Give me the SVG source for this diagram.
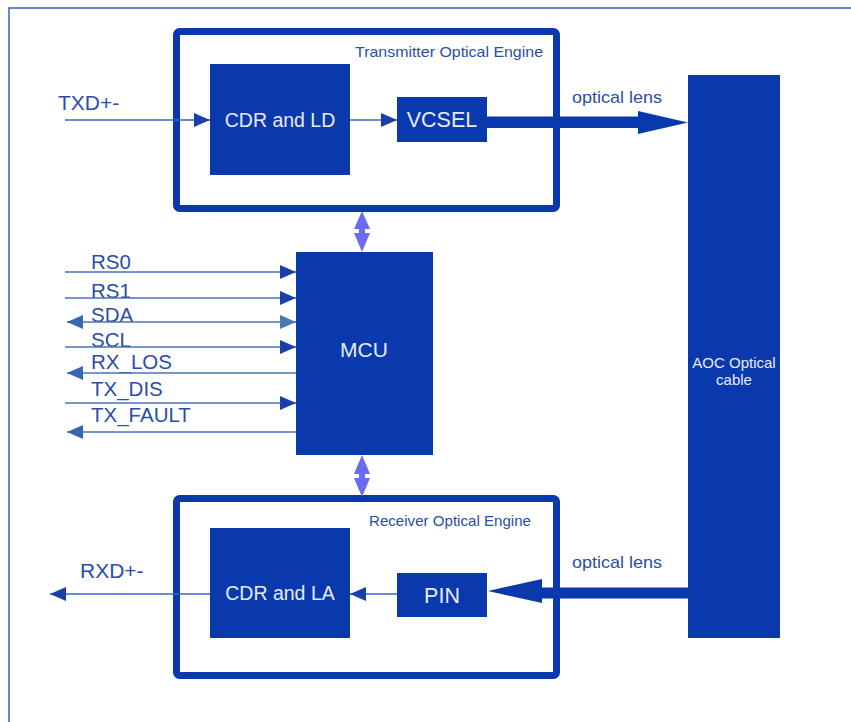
<svg xmlns="http://www.w3.org/2000/svg" width="851" height="722" viewBox="0 0 851 722">
<style>
.box{fill:#0a38ad}
.frame{fill:none;stroke:#0a38ad;stroke-width:7}
.wt{fill:#e8ecf8;font-family:"Liberation Sans",Arial,sans-serif;text-anchor:middle}
.bt{fill:#2a4ea8;font-family:"Liberation Sans",Arial,sans-serif}
.sig{stroke:#4a72b8;stroke-width:1.5;fill:none}
.thin{stroke:#3d62c0;stroke-width:1.5;fill:none}
.dbl{fill:#6b6bf2}
</style>
<defs>
<marker id="ar" markerUnits="userSpaceOnUse" markerWidth="16" markerHeight="14" refX="16" refY="7" orient="auto">
<path d="M0,0 L16,7 L0,14 Z" fill="#1a3fa8"/>
</marker>
<marker id="arl" markerUnits="userSpaceOnUse" markerWidth="16" markerHeight="14" refX="16" refY="7" orient="auto">
<path d="M0,0 L16,7 L0,14 Z" fill="#4a78b0"/>
</marker>
<marker id="al" markerUnits="userSpaceOnUse" markerWidth="16" markerHeight="14" refX="0" refY="7" orient="auto">
<path d="M16,0 L0,7 L16,14 Z" fill="#3a66b0"/>
</marker>
</defs>

<path d="M9,722 V8 H851" fill="none" stroke="#3a5cc8" stroke-width="1.5"/>

<g id="tx-engine">
<rect class="frame" x="176.5" y="31.5" width="380" height="177" rx="3"/>
<text class="bt" x="355" y="57" font-size="14.5" textLength="188" lengthAdjust="spacingAndGlyphs">Transmitter Optical Engine</text>
</g>
<g id="cdr-ld">
<rect class="box" x="210" y="64" width="140" height="111"/>
<text class="wt" x="280" y="127" font-size="19.5">CDR and LD</text>
</g>
<g id="vcsel">
<rect class="box" x="397" y="97" width="90" height="45"/>
<text class="wt" x="442" y="127" font-size="21.5">VCSEL</text>
</g>
<g id="aoc">
<rect class="box" x="688" y="75" width="92" height="563"/>
<text class="wt" x="734" y="368" font-size="15">AOC Optical</text>
<text class="wt" x="734" y="385" font-size="15">cable</text>
</g>
<g id="mcu">
<rect class="box" x="296" y="252" width="137" height="203"/>
<text class="wt" x="364" y="357" font-size="21">MCU</text>
</g>
<g id="rx-engine">
<rect class="frame" x="176.5" y="498.5" width="380" height="177" rx="3"/>
<text class="bt" x="369" y="526" font-size="14.5" textLength="162" lengthAdjust="spacingAndGlyphs">Receiver Optical Engine</text>
</g>
<g id="cdr-la">
<rect class="box" x="210" y="528" width="140" height="110"/>
<text class="wt" x="280" y="600" font-size="19.5">CDR and LA</text>
</g>
<g id="pin">
<rect class="box" x="397" y="573" width="90" height="44"/>
<text class="wt" x="442" y="603" font-size="21.5">PIN</text>
</g>

<g id="labels">
<text class="bt" x="58" y="110" font-size="21">TXD+-</text>
<text class="bt" x="80" y="578" font-size="21">RXD+-</text>
<text class="bt" x="572" y="103" font-size="17" textLength="90" lengthAdjust="spacingAndGlyphs">optical lens</text>
<text class="bt" x="572" y="568" font-size="17" textLength="90" lengthAdjust="spacingAndGlyphs">optical lens</text>
<g font-size="20.5">
<text class="bt" x="91" y="269">RS0</text>
<text class="bt" x="91" y="298">RS1</text>
<text class="bt" x="91" y="322">SDA</text>
<text class="bt" x="91" y="347">SCL</text>
<text class="bt" x="91" y="369">RX_LOS</text>
<text class="bt" x="91" y="396">TX_DIS</text>
<text class="bt" x="91" y="422">TX_FAULT</text>
</g>
</g>

<g id="connectors">
<line class="thin" x1="65" y1="120" x2="210" y2="120" marker-end="url(#ar)"/>
<line class="thin" x1="350" y1="120" x2="397" y2="120" marker-end="url(#ar)"/>
<path d="M487,116.5 H638 V111 L688,122.5 L638,134 V128 H487 Z" class="box"/>
<path d="M688,587.5 H542 V579 L488,591 L542,603 V598.5 H688 Z" class="box"/>
<line class="thin" x1="397" y1="594" x2="350" y2="594" marker-end="url(#ar)"/>
<line class="thin" x1="210" y1="594" x2="50" y2="594" marker-end="url(#ar)"/>

<line class="sig" x1="65" y1="272" x2="296" y2="272" marker-end="url(#ar)"/>
<line class="sig" x1="65" y1="298" x2="296" y2="298" marker-end="url(#ar)"/>
<line class="sig" x1="67" y1="322" x2="296" y2="322" marker-start="url(#al)" marker-end="url(#arl)"/>
<line class="sig" x1="65" y1="347" x2="296" y2="347" marker-end="url(#ar)"/>
<line class="sig" x1="67" y1="373" x2="296" y2="373" marker-start="url(#al)"/>
<line class="sig" x1="65" y1="403" x2="296" y2="403" marker-end="url(#ar)"/>
<line class="sig" x1="67" y1="432" x2="296" y2="432" marker-start="url(#al)"/>

<polygon class="dbl" points="362,211 370,229 365,229 365,233 370,233 362,252 354,233 359,233 359,229 354,229"/>
<polygon class="dbl" points="362,455 370,474 365,474 365,478 370,478 362,497 354,478 359,478 359,474 354,474"/>
</g>
</svg>
